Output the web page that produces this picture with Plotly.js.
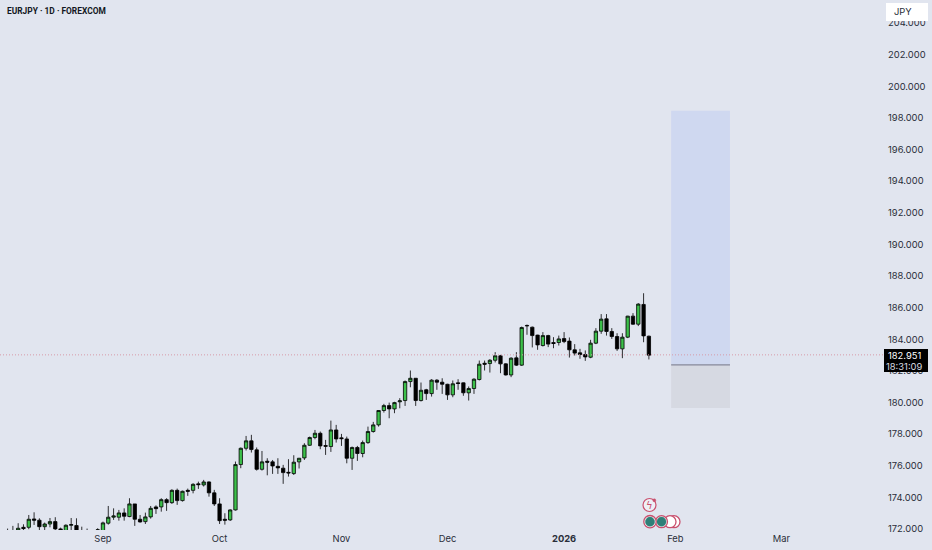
<!DOCTYPE html>
<html><head><meta charset="utf-8">
<script src="https://cdn.plot.ly/plotly-3.0.1.min.js"></script>
<style>html,body{margin:0;padding:0;background:#e1e5ef}</style></head>
<body><div id="chart" style="width:932px;height:550px"></div>
<script>
var opens=[171.5,171.6,171.6,172.04,172.04,172.57,172.49,172.08,172.25,172.40,171.94,171.6,172.17,172.15,171.6,171.6,171.5,171.85,
171.75,172.30,172.68,172.68,172.95,172.72,173.52,172.55,172.40,172.70,173.33,173.33,173.79,173.60,174.38,173.73,174.38,174.38,174.79,174.72,174.91,174.22,173.52,172.55,172.51,
173.14,176.01,177.04,177.51,176.94,175.71,176.22,176.18,175.90,175.78,175.52,175.44,176.18,176.43,177.23,177.72,177.99,177.21,177.15,178.20,177.70,177.63,176.41,177.09,176.71,177.40,178.10,178.52,179.43,179.74,179.53,179.98,
180.06,181.26,181.47,180.06,180.74,180.50,181.35,181.22,181.09,180.42,181.18,181.18,180.55,180.82,181.39,182.42,182.40,182.61,182.89,182.38,181.68,182.76,182.30,184.81,
184.70,184.20,183.54,184.17,183.73,183.73,183.98,183.82,183.27,183.08,182.97,182.80,183.69,184.45,185.23,184.43,184.11,183.33,184.07,185.40,184.89,186.14,184.13];
var highs=[171.96,172.13,172.30,172.23,172.82,172.99,172.61,172.34,172.63,172.68,172.02,172.23,172.63,172.61,172.08,171.96,171.7,171.98,
172.40,173.39,173.24,173.14,173.24,173.88,173.52,172.82,172.97,173.39,173.43,173.88,173.88,174.45,174.49,174.36,174.49,174.83,174.93,175.04,174.95,174.41,173.88,172.93,173.18,
176.20,177.09,177.82,177.89,177.09,176.87,176.41,176.30,176.41,175.99,176.35,176.60,176.43,177.36,177.78,178.20,178.10,177.57,178.79,178.52,177.95,177.78,177.15,177.19,177.53,178.41,178.71,179.45,179.85,179.93,179.98,180.21,
181.33,181.96,181.47,181.20,180.80,181.41,181.41,181.47,181.12,181.33,181.41,181.20,180.95,181.47,182.59,182.59,182.68,183.12,182.95,182.42,182.80,183.12,184.74,184.87,
184.74,184.22,184.39,184.22,184.07,184.17,184.39,184.05,183.63,183.33,183.23,183.90,184.64,185.53,185.53,184.64,184.32,184.32,185.42,185.59,186.22,186.85,184.17];
var lows=[171.2,171.5,171.5,171.7,171.92,172.19,171.83,171.75,172.04,171.8,171.5,171.5,171.6,171.4,171.3,171.2,171.2,171.7,
171.65,172.21,172.51,172.46,172.46,172.68,172.13,172.34,172.25,172.59,172.89,173.03,173.08,173.52,173.46,173.67,174.03,174.19,174.47,174.62,173.98,173.39,172.25,172.21,172.44,
173.10,175.78,176.90,176.77,175.63,175.63,175.33,175.42,175.42,174.79,175.25,175.35,175.76,176.30,177.19,177.61,176.98,176.62,176.81,177.40,177.19,176.09,175.67,176.24,176.47,177.32,178.03,178.41,179.30,178.94,179.26,179.57,
179.72,180.90,179.72,180.00,180.10,180.31,180.74,180.48,180.10,180.27,180.74,180.36,180.06,180.48,181.33,181.96,181.83,182.47,181.79,181.64,181.54,182.25,182.25,184.22,
183.42,183.27,183.48,183.44,183.37,183.54,183.69,182.78,182.91,182.70,182.57,182.74,183.63,184.28,184.17,183.96,183.20,182.74,184.01,184.85,184.77,183.75,182.66];
var closes=[171.3,171.8,171.98,171.96,172.55,172.49,172.08,172.25,172.40,171.94,171.6,172.17,172.21,171.6,171.7,171.5,171.4,171.88,
172.32,172.68,172.76,172.95,172.74,173.52,172.55,172.38,172.70,173.24,173.22,173.79,173.60,174.38,173.73,174.32,174.32,174.76,174.74,174.91,174.22,173.52,172.46,172.49,173.14,
176.01,177.04,177.51,176.96,175.71,176.18,176.16,175.92,175.80,175.50,175.48,176.16,176.41,177.23,177.72,177.99,177.19,177.17,178.20,177.63,177.65,176.41,177.09,176.71,177.40,178.10,178.52,179.43,179.74,179.53,179.93,180.04,
181.26,181.47,180.06,180.71,180.50,181.35,181.22,181.09,180.42,181.12,181.14,180.55,180.82,181.41,182.36,182.36,182.61,182.89,182.38,181.68,182.74,182.30,184.68,184.79,
184.17,183.58,184.17,183.63,183.67,183.96,183.79,183.27,183.06,182.97,182.82,183.69,184.45,185.21,184.43,184.11,183.33,184.07,185.40,184.89,186.16,184.15,182.93];
var tickPositions=[18,40,63,83,105,126,146];
var tickLabels=['Sep','Oct','Nov','Dec','<b>2026</b>','Feb','Mar'];
var lastPrice=182.951, countdown='18:31:09';
var boxX=[125.2,136.3], targetPrice=198.39, entryPrice=182.32, stopPrice=179.59;
var index=opens.map(function(_,i){return i;});
var F='Inter, Roboto, sans-serif', INK='#2a2e39', PINK='#c9506e', TEAL='#2f7f78', BG='#e1e5ef';

var shapes=[
 {type:'rect',xref:'x',yref:'y',x0:boxX[0],x1:boxX[1],y0:entryPrice,y1:targetPrice,fillcolor:'#cfd8f0',line:{width:0},layer:'below'},
 {type:'rect',xref:'x',yref:'y',x0:boxX[0],x1:boxX[1],y0:stopPrice,y1:entryPrice,fillcolor:'#d6d9e2',line:{width:0},layer:'below'},
 {type:'line',xref:'x',yref:'y',x0:boxX[0],x1:boxX[1],y0:entryPrice,y1:entryPrice,line:{color:'#85889a',width:1.3}},
 {type:'line',xref:'paper',yref:'y',x0:0,x1:1,y0:lastPrice,y1:lastPrice,line:{color:'#d79aa8',width:1,dash:'1px,2px'},layer:'above'}
];
function px(x){return x/884;}
function py(y){return 1-y/530;}
function circle(cx,cy,r,fill,line,w){
 shapes.push({type:'circle',xref:'paper',yref:'paper',x0:px(cx-r),x1:px(cx+r),y0:py(cy+r),y1:py(cy-r),fillcolor:fill,line:{color:line,width:w}});
}
function rounded(x0,y0,x1,y1,r,fill){
 shapes.push({type:'rect',xref:'paper',yref:'paper',x0:px(x0),x1:px(x1),y0:py(y1),y1:py(y0),fillcolor:fill,line:{color:fill,width:r}});
}
circle(674,521.7,6,'#ffffff',PINK,1.3);
circle(670,521.7,6,'#ffffff',PINK,1.3);
circle(661.5,521.7,6,'#ffffff',PINK,1.3);
circle(661.5,521.7,4.6,TEAL,TEAL,0.5);
circle(650,521.7,6.2,'#ffffff',PINK,1.3);
circle(650,521.7,4.6,TEAL,TEAL,0.5);
circle(649.5,505,6.5,'#eef0f6',PINK,1.2);
circle(654.3,500.3,1.5,PINK,PINK,0.5);
rounded(887,4,927,20,2,'#ffffff');
shapes.push({type:'rect',xref:'paper',yref:'paper',x0:px(884),x1:px(928),y0:py(372),y1:py(349),fillcolor:'#000000',line:{width:0}});

var annotations=[
 {xref:'paper',yref:'paper',x:px(5),y:py(10.5),xanchor:'left',yanchor:'middle',showarrow:false,text:'EURJPY · 1D · FOREXCOM',font:{family:'Roboto, sans-serif',size:8.4,color:'#131722',weight:700}},
 {xref:'paper',yref:'paper',x:px(649.5),y:py(505),xanchor:'center',yanchor:'middle',showarrow:false,text:'ϟ',font:{family:'DejaVu Sans',size:10,color:PINK}},
 {xref:'paper',yref:'paper',x:px(892),y:py(11.5),xanchor:'left',yanchor:'middle',showarrow:false,text:'JPY',font:{family:F,size:9.4,color:INK}},
 {xref:'paper',yref:'paper',x:px(905),y:py(355),xanchor:'center',yanchor:'middle',showarrow:false,text:'182.951',font:{family:F,size:9.4,color:'#ffffff'}},
 {xref:'paper',yref:'paper',x:px(905),y:py(366),xanchor:'center',yanchor:'middle',showarrow:false,text:countdown,font:{family:F,size:9.4,color:'#d8dae0'}}
];

var trace={type:'candlestick',x:index,open:opens,high:highs,low:lows,close:closes,
 increasing:{line:{color:'#000000',width:0.8},fillcolor:'#3cc04a'},
 decreasing:{line:{color:'#000000',width:0.8},fillcolor:'#000000'},
 whiskerwidth:0,hoverinfo:'skip',showlegend:false};

Plotly.newPlot('chart',[trace],{
 width:932,height:550,margin:{l:0,r:48,t:0,b:20,pad:0},boxgap:0.1,
 paper_bgcolor:BG,plot_bgcolor:BG,showlegend:false,
 xaxis:{range:[-1.43,165.36],showgrid:false,zeroline:false,showline:false,tickmode:'array',tickvals:tickPositions,ticktext:tickLabels,ticks:'',ticklabelstandoff:2,rangeslider:{visible:false},tickfont:{family:F,size:9.4,color:INK}},
 yaxis:{side:'right',range:[171.87,205.4],dtick:2,tick0:172,tickformat:'.3f',showgrid:false,zeroline:false,showline:false,ticks:'',ticklabelstandoff:3,ticklabelshift:1,tickfont:{family:F,size:9.4,color:INK}},
 shapes:shapes,annotations:annotations
},{staticPlot:true,displayModeBar:false});
</script></body></html>
